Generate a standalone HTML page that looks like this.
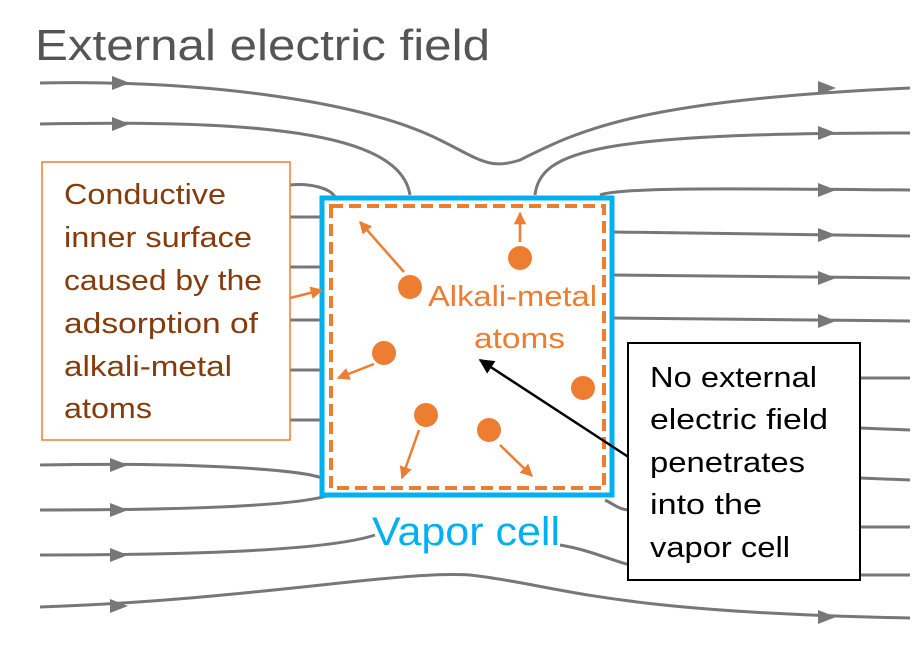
<!DOCTYPE html>
<html><head><style>body{margin:0;background:#fff}svg{display:block}</style></head><body>
<svg width="921" height="654" viewBox="0 0 921 654" xmlns="http://www.w3.org/2000/svg" font-family="Liberation Sans, sans-serif">
<defs>
<marker id="oa" viewBox="0 0 10 10" refX="9" refY="5" markerWidth="5" markerHeight="5" orient="auto"><path d="M0,0L10,5L0,10z" fill="#ed7d31"/></marker>
<marker id="ba" viewBox="0 0 10 10" refX="9" refY="5" markerWidth="6" markerHeight="6" orient="auto"><path d="M0,0L10,5L0,10z" fill="#000"/></marker>
</defs>
<text x="35" y="60" font-size="44" fill="#555" textLength="455" lengthAdjust="spacingAndGlyphs">External electric field</text>
<g fill="none" stroke="#777" stroke-width="3">
<path d="M40,83 C200,80 360,100 440,140 C480,160 490,170 520,160 C580,130 640,100 910,88"/>
<path d="M40,124 C250,120 400,130 410,195"/>
<path d="M535,195 C540,150 600,133 910,133"/>
<path d="M290,185 C310,183 330,188 335,197"/>
<path d="M600,195 C620,188 700,188 910,190"/>
<path d="M612,232 L910,236"/>
<path d="M612,275 L910,278"/>
<path d="M612,318 L910,321"/>
<path d="M290,217 L322,217"/><path d="M290,267 L322,267"/><path d="M290,320 L322,320"/><path d="M290,370 L322,370"/><path d="M290,420 L322,420"/>
<path d="M860,378 L910,378"/><path d="M860,428 L910,430"/><path d="M860,478 L910,480"/><path d="M860,527 L910,527"/><path d="M860,575 L910,575"/>
<path d="M40,465 C200,462 300,470 322,478"/>
<path d="M40,510 C200,510 300,505 330,495"/>
<path d="M40,555 C200,555 330,550 375,535"/>
<path d="M560,545 C590,550 610,560 630,565"/>
<path d="M605,500 C615,505 620,510 630,510"/>
<path d="M40,607 C250,600 400,570 470,575 C560,585 600,612 910,618"/>
</g>
<g fill="#777">
<path d="M112,76L130,83L112,90z"/><path d="M112,117L130,124L112,131z"/>
<path d="M818,81L836,88L818,95z"/><path d="M818,126L836,133L818,140z"/><path d="M818,183L836,190L818,197z"/>
<path d="M818,228L836,235L818,242z"/><path d="M818,271L836,278L818,285z"/><path d="M818,314L836,321L818,328z"/>
<path d="M110,458L128,465L110,472z"/><path d="M110,503L128,510L110,517z"/><path d="M110,548L128,555L110,562z"/><path d="M110,599L128,606L110,613z"/>
<path d="M818,610L836,617L818,624z"/>
</g>
<rect x="322" y="198" width="290" height="297" fill="#fff" stroke="#00b0f0" stroke-width="5"/>
<rect x="331" y="206" width="273" height="282" fill="none" stroke="#ed7d31" stroke-width="4" stroke-dasharray="12,6"/>
<rect x="42" y="162" width="248" height="278" fill="#fff" stroke="#ed7d31" stroke-width="1.5"/>
<g font-size="29" fill="#843c0c">
<text x="64" y="204" textLength="162" lengthAdjust="spacingAndGlyphs">Conductive</text>
<text x="64" y="247" textLength="188" lengthAdjust="spacingAndGlyphs">inner surface</text>
<text x="64" y="290" textLength="198" lengthAdjust="spacingAndGlyphs">caused by the</text>
<text x="64" y="333" textLength="194" lengthAdjust="spacingAndGlyphs">adsorption of</text>
<text x="64" y="376" textLength="168" lengthAdjust="spacingAndGlyphs">alkali-metal</text>
<text x="64" y="418" textLength="88" lengthAdjust="spacingAndGlyphs">atoms</text>
</g>
<g stroke="#ed7d31" stroke-width="2.5" fill="none" marker-end="url(#oa)">
<path d="M290,298 L322,290"/>
<path d="M404,272 L360,222"/><path d="M520,242 L520,213"/><path d="M374,364 L338,378"/><path d="M419,430 L402,478"/><path d="M500,445 L532,476"/>
</g>
<g fill="#ed7d31">
<circle cx="410" cy="287" r="12"/><circle cx="520" cy="258" r="12"/><circle cx="384" cy="353" r="12"/><circle cx="583" cy="388" r="12"/><circle cx="426" cy="415" r="12"/><circle cx="489" cy="430" r="12"/>
</g>
<text x="428" y="306" font-size="29" fill="#ed7d31" textLength="169" lengthAdjust="spacingAndGlyphs">Alkali-metal</text>
<text x="474" y="348" font-size="29" fill="#ed7d31" textLength="91" lengthAdjust="spacingAndGlyphs">atoms</text>
<text x="372" y="545" font-size="40" fill="#00b0f0" textLength="188" lengthAdjust="spacingAndGlyphs">Vapor cell</text>
<path d="M630,458 L480,360" stroke="#000" stroke-width="2.5" marker-end="url(#ba)"/>
<rect x="628" y="343" width="232" height="237" fill="#fff" stroke="#000" stroke-width="2"/>
<g font-size="29" fill="#000">
<text x="650" y="387" textLength="167" lengthAdjust="spacingAndGlyphs">No external</text>
<text x="650" y="429" textLength="178" lengthAdjust="spacingAndGlyphs">electric field</text>
<text x="650" y="472" textLength="155" lengthAdjust="spacingAndGlyphs">penetrates</text>
<text x="650" y="514" textLength="112" lengthAdjust="spacingAndGlyphs">into the</text>
<text x="650" y="557" textLength="140" lengthAdjust="spacingAndGlyphs">vapor cell</text>
</g>
</svg>
</body></html>
